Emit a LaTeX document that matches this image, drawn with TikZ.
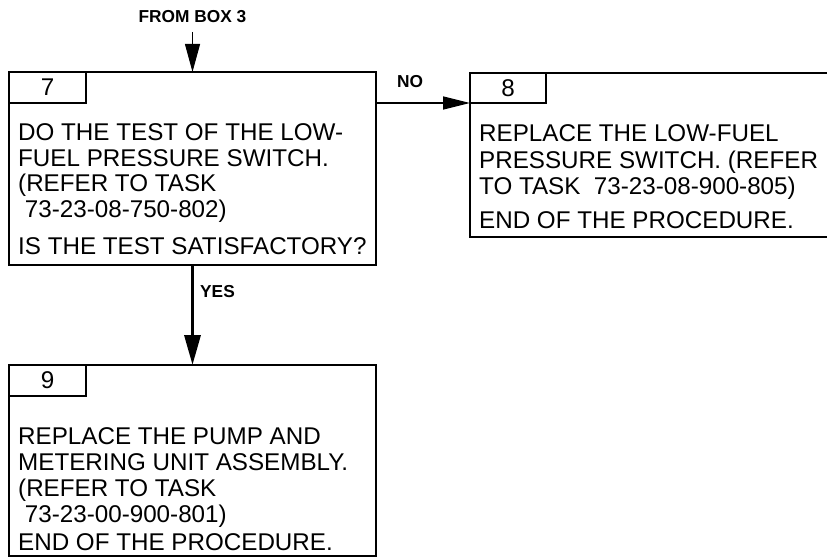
\documentclass[tikz,border=0pt]{standalone}
\usepackage{fontspec}
\setmainfont{Liberation Sans}
\usetikzlibrary{arrows.meta,calc}
\begin{document}
\begin{tikzpicture}[x=1pt,y=-1pt,
  box/.style={draw, line width=2pt, rectangle, inner sep=0pt, outer sep=0pt, anchor=north west},
  tabbox/.style={box, font=\fontsize{24.2}{26}\selectfont},
  txt/.style={anchor=base west, inner sep=0pt, font=\fontsize{24.2}{26}\selectfont},
  lbl/.style={inner sep=0pt, font=\fontsize{17.3}{19}\selectfont\bfseries},
  conn/.style={draw, line width=1.5pt}
]
\useasboundingbox (0,0) rectangle (827,559);

% boxes
\node[box, minimum width=367pt, minimum height=193pt] (b7) at (9,72) {};
\node[tabbox, minimum width=77pt, minimum height=31pt] (t7) at (9,72) {7};

\node[box, minimum width=359pt, minimum height=164pt] (b8) at (470,73) {};
\node[tabbox, minimum width=76pt, minimum height=30pt] (t8) at (470,73) {8};

\node[box, minimum width=367pt, minimum height=191pt] (b9) at (9,365) {};
\node[tabbox, minimum width=77pt, minimum height=31pt] (t9) at (9,365) {9};

% box 7 text
\node[txt] (l71) at (18,140) {DO THE TEST OF THE LOW-};
\node[txt] (l72) at (18,166) {FUEL PRESSURE SWITCH.};
\node[txt] (l73) at (18,191) {(REFER TO TASK};
\node[txt] (l74) at (18,217) {\ 73-23-08-750-802)};
\node[txt] (l75) at (18,254) {IS THE TEST SATISFACTORY?};

% box 8 text
\node[txt] (l81) at (479,142) {REPLACE THE LOW-FUEL};
\node[txt] (l82) at (479,168) {PRESSURE SWITCH. (REFER};
\node[txt] (l83) at (479,194) {TO TASK\ \ 73-23-08-900-805)};
\node[txt] (l84) at (479,228) {END OF THE PROCEDURE.};

% box 9 text
\node[txt] (l91) at (18,444) {REPLACE THE PUMP AND};
\node[txt] (l92) at (18,470) {METERING UNIT ASSEMBLY.};
\node[txt] (l93) at (18,496) {(REFER TO TASK};
\node[txt] (l94) at (18,522) {\ 73-23-00-900-801)};
\node[txt] (l95) at (18,550) {END OF THE PROCEDURE.};

% connectors
\coordinate (src) at ($(b7.north)+(0,-40)$);
\draw[line width=1pt, -{Triangle[length=28pt,width=15pt]}] (src) -- (b7.north);
\node[lbl, anchor=base] (from) at (192.5,23) {FROM BOX 3};

\draw[conn, -{Triangle[length=27pt,width=13pt]}] (t7.south -| b7.east) -- (t8.south -| b8.west);
\node[lbl, anchor=base] (no) at (410,88) {NO};

\draw[line width=3.3pt, -{Triangle[length=30pt,width=16pt]}] (b7.south) -- (b9.north);
\node[lbl, anchor=base west] (yes) at (200,297) {YES};
\end{tikzpicture}
\end{document}
